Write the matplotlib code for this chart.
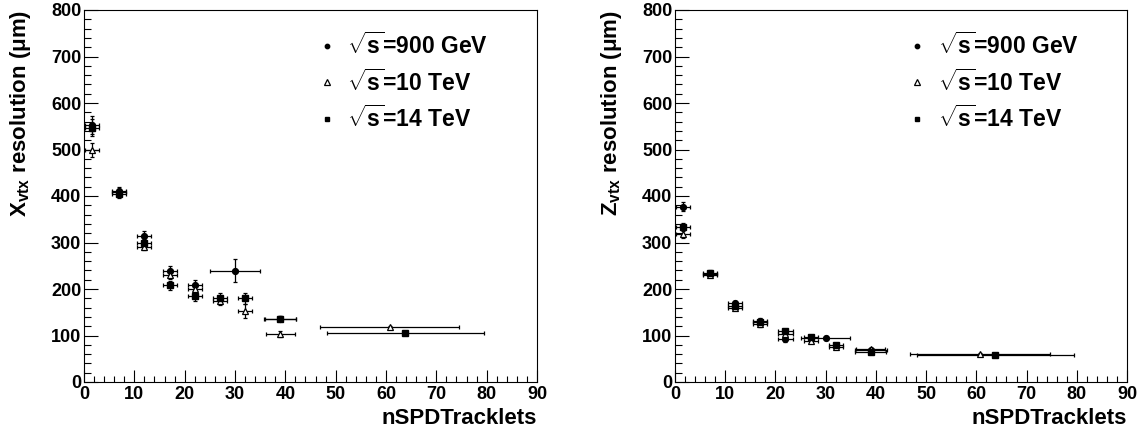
import matplotlib
matplotlib.use("Agg")
import matplotlib.pyplot as plt
from matplotlib.ticker import MultipleLocator

plt.rcParams['font.family'] = ['Liberation Sans', 'DejaVu Sans']
plt.rcParams['font.weight'] = 'bold'
plt.rcParams['mathtext.fontset'] = 'custom'
plt.rcParams['mathtext.rm'] = 'Liberation Sans:bold'
plt.rcParams['mathtext.it'] = 'Liberation Sans:bold'
plt.rcParams['mathtext.bf'] = 'Liberation Sans:bold'

# x positions (nSPDTracklets) and x errors
x900 = [1.5, 7, 12, 17, 22, 30, 39]
xe900 = [1.4, 1.4, 1.4, 1.4, 1.4, 4.9, 3.2]
x10 = [1.5, 7, 12, 17, 22, 27, 32, 39, 60.7]
xe10 = [1.4, 1.4, 1.4, 1.4, 1.4, 1.4, 1.4, 2.9, 13.9]
x14 = [1.5, 7, 12, 17, 22, 27, 32, 39, 63.8]
xe14 = [1.4, 1.4, 1.4, 1.4, 1.4, 1.4, 1.4, 3.1, 15.6]

# X vertex resolution (um)
xres900 = [552, 411, 315, 239, 208, 239, 136]
xres900_err = [19, 8, 10, 10, 12, 25, 5]
xres10 = [499, 408, 291, 230, 201, 174, 153, 103, 118]
xres10_err = [15, 8, 8, 8, 8, 8, 15, 6, 3]
xres14 = [547, 404, 298, 208, 185, 181, 180, 136, 105]
xres14_err = [19, 8, 10, 10, 10, 10, 12, 5, 3]

# Z vertex resolution (um)
zres900 = [377, 233, 170, 132, 92, 95, 68]
zres900_err = [10, 5, 5, 5, 5, 5, 3]
zres10 = [319, 230, 160, 124, 103, 89, 75, 71, 60]
zres10_err = [10, 5, 5, 5, 5, 5, 5, 3, 2]
zres14 = [333, 235, 163, 128, 110, 96, 79, 65, 58]
zres14_err = [8, 5, 5, 5, 5, 5, 5, 3, 2]

labels = [r'$\sqrt{s}$=900 GeV', r'$\sqrt{s}$=10 TeV', r'$\sqrt{s}$=14 TeV']

fig = plt.figure(figsize=(11.38, 4.34), dpi=100)
ax1 = fig.add_axes([84/1138, 52/434, 453/1138, 372/434])
ax2 = fig.add_axes([675/1138, 52/434, 452/1138, 372/434])


def panel(ax, r900, e900, r10, e10, r14, e14, ylab):
    h1 = ax.errorbar(x900, r900, xerr=xe900, yerr=e900, fmt='o', ms=4.2,
                     color='k', elinewidth=0.9, capsize=1.5, capthick=0.9)
    h2 = ax.errorbar(x10, r10, xerr=xe10, yerr=e10, fmt='^', ms=5, mfc='white',
                     mec='k', mew=0.9, color='k', elinewidth=0.9, capsize=1.5,
                     capthick=0.9)
    h3 = ax.errorbar(x14, r14, xerr=xe14, yerr=e14, fmt='s', ms=4.3,
                     color='k', elinewidth=0.9, capsize=1.5, capthick=0.9)
    ax.set_xlim(0, 90)
    ax.set_ylim(0, 800)
    ax.xaxis.set_major_locator(MultipleLocator(10))
    ax.xaxis.set_minor_locator(MultipleLocator(2))
    ax.yaxis.set_major_locator(MultipleLocator(100))
    ax.yaxis.set_minor_locator(MultipleLocator(20))
    ax.tick_params(axis='both', which='both', direction='in', width=0.8,
                   labelsize=13, top=False, right=False)
    ax.tick_params(axis='x', which='major', length=8.3, pad=3)
    ax.tick_params(axis='x', which='minor', length=4.3)
    ax.tick_params(axis='y', which='major', length=10, pad=2)
    ax.tick_params(axis='y', which='minor', length=5)
    for s in ax.spines.values():
        s.set_linewidth(0.8)
    ax.set_xlabel('nSPDTracklets', fontsize=16, fontweight='bold', loc='right')
    ax.xaxis.set_label_coords(1.0, -0.07)
    ax.set_ylabel(ylab, fontsize=16, fontweight='bold', loc='top')
    ax.yaxis.set_label_coords(-0.113, 1.0)
    ax.legend([h1[0], h2[0], h3[0]], labels, loc='upper left',
              bbox_to_anchor=(0.49, 0.965), frameon=False, fontsize=16.5,
              handlelength=1.0, handletextpad=0.4, labelspacing=0.45,
              markerscale=0.75, borderaxespad=0)


panel(ax1, xres900, xres900_err, xres10, xres10_err, xres14, xres14_err,
      r'X$_{\mathrm{vtx}}$ resolution (μm)')
panel(ax2, zres900, zres900_err, zres10, zres10_err, zres14, zres14_err,
      r'Z$_{\mathrm{vtx}}$ resolution (μm)')

fig.savefig('out.png', dpi=100)
